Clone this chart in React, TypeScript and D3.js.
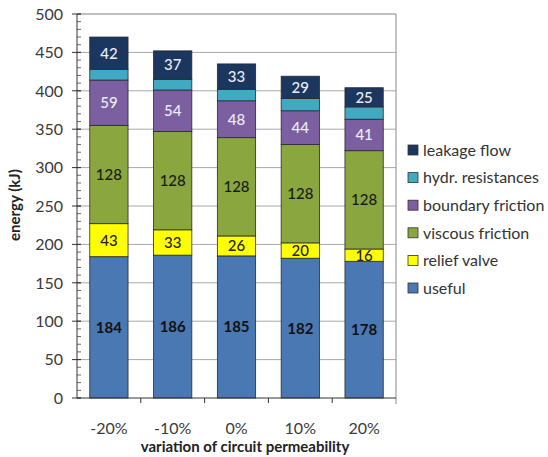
import React from "react";
import * as d3 from "d3";

const categories = ["-20%", "-10%", "0%", "10%", "20%"];
const useful = [184, 186, 185, 182, 178];
const reliefValve = [43, 33, 26, 20, 16];
const viscousFriction = [128, 128, 128, 128, 128];
const boundaryFriction = [59, 54, 48, 44, 41];
const hydrResistances = [14, 14, 15, 16, 16];
const leakageFlow = [42, 37, 33, 29, 25];
const yTicks = [0, 50, 100, 150, 200, 250, 300, 350, 400, 450, 500];

const seriesNames = ["useful", "relief valve", "viscous friction", "boundary friction", "hydr. resistances", "leakage flow"];
const seriesColors = ["#4a78b2", "#ffff00", "#89a63f", "#7c5fa0", "#41a9c2", "#1b365f"];
const seriesLabelled = [true, true, true, true, false, true];
const labelColors = ["#111", "#222", "#1a1a1a", "#ececf4", "#fff", "#ececf4"];
const seriesValues = [useful, reliefValve, viscousFriction, boundaryFriction, hydrResistances, leakageFlow];

const W = 548, H = 457;
const L = 77, R = 396, T = 14, B = 398;
const FONT = "Lato, 'Open Sans', sans-serif";

export default function App() {
  const x = d3.scaleBand<string>().domain(categories).range([L, R]).paddingInner(0.4).paddingOuter(0.2);
  const y = d3.scaleLinear().domain([0, 500]).range([B, T]);
  const table = categories.map((c, i) => {
    const row: any = { cat: c };
    seriesNames.forEach((n, s) => (row[n] = seriesValues[s][i]));
    return row;
  });
  const stacked = d3.stack<any>().keys(seriesNames)(table);
  const minor = d3.range(0, 501, 10);
  const step = x.step();
  const legendOrder = [...seriesNames.keys()].reverse();

  return (
    <svg width={W} height={H} style={{ position: "absolute", left: 0, top: 0, background: "#fff" }} fontFamily={FONT}>
      {yTicks.slice(1).map((t) => (
        <line key={"g" + t} x1={L} x2={R} y1={y(t)} y2={y(t)} stroke={t === 500 ? "#808080" : "#a8a8a8"} strokeWidth={1} />
      ))}
      <line x1={R} x2={R} y1={T} y2={B + 6} stroke="#8a8a8a" strokeWidth={1} />
      {stacked.map((layer, s) =>
        layer.map((d, i) => {
          const x0 = x(categories[i])!;
          const y0 = y(d[1]);
          const h = y(d[0]) - y(d[1]);
          return (
            <g key={s + "-" + i}>
              <rect x={x0} y={y0} width={x.bandwidth()} height={h} fill={seriesColors[s]} stroke="#2a2a2a" strokeWidth={0.8} />
              {seriesLabelled[s] && (
                <text x={x0 + x.bandwidth() / 2} y={y0 + h / 2} dy="0.36em" textAnchor="middle" fontSize={15}
                  fontWeight={s === 0 ? 700 : 500} fill={labelColors[s]}>
                  {seriesValues[s][i]}
                </text>
              )}
            </g>
          );
        })
      )}
      {/* y axis */}
      <line x1={L} x2={L} y1={T} y2={B} stroke="#333" strokeWidth={1} />
      {minor.map((t) => (
        <line key={"m" + t} x1={L} x2={L + 4} y1={y(t)} y2={y(t)} stroke="#444" strokeWidth={0.8} />
      ))}
      {yTicks.map((t) => (
        <g key={"t" + t}>
          <line x1={L - 5} x2={L + 4} y1={y(t)} y2={y(t)} stroke="#333" strokeWidth={1} />
          <text x={L - 14} y={y(t)} dy="0.36em" textAnchor="end" fontSize={16} fill="#3a3a3a">{t}</text>
        </g>
      ))}
      {/* x axis */}
      <line x1={L} x2={R} y1={B} y2={B} stroke="#333" strokeWidth={1} />
      {categories.map((c, i) => (
        <g key={"x" + c}>
          {i > 0 && <line x1={L + step * i} x2={L + step * i} y1={B} y2={B + 5} stroke="#333" strokeWidth={1} />}
          <text x={x(c)! + x.bandwidth() / 2} y={428} dy="0.36em" textAnchor="middle" fontSize={16} fill="#3a3a3a">{c}</text>
        </g>
      ))}
      <text x={245} y={447} dy="0.36em" textAnchor="middle" fontSize={15} fontWeight={700} fill="#222">
        variation of circuit permeability
      </text>
      <text transform={`translate(15,205) rotate(-90)`} dy="0.36em" textAnchor="middle" fontSize={15} fontWeight={700} fill="#222">
        energy (kJ)
      </text>
      {/* legend */}
      {legendOrder.map((s, k) => {
        const cy = 150 + k * 27.6;
        return (
          <g key={"l" + s}>
            <rect x={408} y={cy - 5} width={10} height={10} fill={seriesColors[s]} stroke="#333" strokeWidth={0.8} />
            <text x={423} y={cy} dy="0.36em" fontSize={16} fill="#333">{seriesNames[s]}</text>
          </g>
        );
      })}
    </svg>
  );
}
